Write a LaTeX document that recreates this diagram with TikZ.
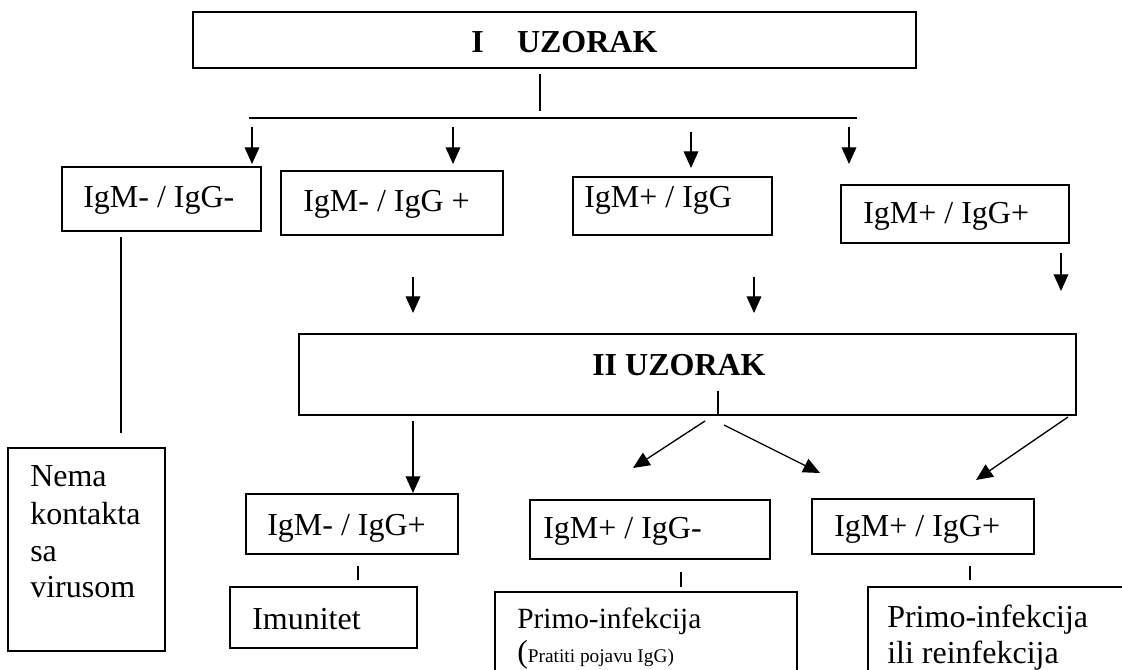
\documentclass[tikz,border=0pt]{standalone}
\usepackage{fontspec}
\setmainfont{Liberation Serif}
\usetikzlibrary{arrows.meta,fit}
\begin{document}
\begin{tikzpicture}[x=0.75pt,y=-0.75pt,
  box/.style={draw, line width=1.2pt, inner sep=0pt, rectangle},
  conn/.style={line width=1pt},
  arr/.style={conn, -{Triangle[length=12.5pt,width=11pt]}},
  lbl/.style={anchor=base west, inner sep=0pt, font=\fontsize{24}{28}\selectfont},
  ttl/.style={lbl, font=\fontsize{24}{28}\selectfont\bfseries}]
\useasboundingbox (0,0) rectangle (1122,670);
\clip (0,0) rectangle (1122,670);
% boxes
\node[box, fit={(193,12) (916,68)}] (top) {};
\node[box, fit={(62,167) (261,231)}] (r1a) {};
\node[box, fit={(281,171) (503,235)}] (r1b) {};
\node[box, fit={(573,177) (772,235)}] (r1c) {};
\node[box, fit={(841,185) (1069,243)}] (r1d) {};
\node[box, fit={(299,334) (1076,415)}] (two) {};
\node[box, fit={(8,448) (165,651)}] (nema) {};
\node[box, fit={(246,494) (458,554)}] (r2a) {};
\node[box, fit={(530,500) (770,559)}] (r2b) {};
\node[box, fit={(812,499) (1034,554)}] (r2c) {};
\node[box, fit={(230,587) (417,648)}] (imu) {};
\node[box, fit={(495,592) (797,690)}] (pri1) {};
\node[box, fit={(868,587) (1140,690)}] (pri2) {};
% texts
\node[ttl] (ttop) at (471,53) {I\hspace{25pt}UZORAK};
\node[ttl] (ttwo) at (592,376) {II UZORAK};
\node[lbl] (t1a) at (83,208) {IgM- / IgG-};
\node[lbl] (t1b) at (303,212) {IgM- / IgG +};
\node[lbl] (t1c) at (584,208) {IgM+ / IgG};
\node[lbl] (t1d) at (863,224) {IgM+ / IgG+};
\node[lbl] (t2a) at (267,535) {IgM- / IgG+};
\node[lbl] (t2b) at (543,538) {IgM+ / IgG-};
\node[lbl] (t2c) at (834,537) {IgM+ / IgG+};
\node[lbl] (tn1) at (30,487) {Nema};
\node[lbl] (tn2) at (30,524) {kontakta};
\node[lbl] (tn3) at (30,561) {sa};
\node[lbl] (tn4) at (30,597) {virusom};
\node[lbl] (timu) at (252,629) {Imunitet};
\node[lbl, font=\fontsize{22}{26}\selectfont] (tp1) at (517,628) {Primo-infekcija};
\node[lbl] (tp1b) at (517,662) {(\fontsize{14.5}{16}\selectfont Pratiti pojavu IgG)};
\node[lbl] (tp2) at (887,627) {Primo-infekcija};
\node[lbl] (tp2b) at (887,663) {ili reinfekcija};
% coordinates for connectors
\coordinate (a0) at (540,74);  \coordinate (b0) at (540,111);
\coordinate (hl) at (249,118); \coordinate (hr) at (857,118);
\coordinate (a1) at (252,127); \coordinate (b1) at (252,164);
\coordinate (a2) at (453,127); \coordinate (b2) at (453,164);
\coordinate (a3) at (691,132); \coordinate (b3) at (691,168);
\coordinate (a4) at (849,127); \coordinate (b4) at (849,164);
\coordinate (nl) at (121,237); \coordinate (nb) at (121,433);
\coordinate (a5) at (413,277); \coordinate (b5) at (413,313);
\coordinate (a6) at (754,277); \coordinate (b6) at (754,313);
\coordinate (a7) at (1061,253); \coordinate (b7) at (1061,291);
\coordinate (tk) at (718,391);
\coordinate (a8) at (413,421); \coordinate (b8) at (413,493);
\coordinate (d1s) at (705,421); \coordinate (d1e) at (633,468);
\coordinate (d2s) at (724,425); \coordinate (d2e) at (820,473);
\coordinate (d3s) at (1068,417); \coordinate (d3e) at (976,480);
\coordinate (k1) at (358,566); \coordinate (k1e) at (358,580);
\coordinate (k2) at (681,572); \coordinate (k2e) at (681,587);
\coordinate (k3) at (970,566); \coordinate (k3e) at (970,580);
% connectors
\draw[conn] (a0) -- (b0);
\draw[conn] (hl) -- (hr);
\draw[arr] (a1) -- (b1);
\draw[arr] (a2) -- (b2);
\draw[arr] (a3) -- (b3);
\draw[arr] (a4) -- (b4);
\draw[conn] (nl) -- (nb);
\draw[arr] (a5) -- (b5);
\draw[arr] (a6) -- (b6);
\draw[arr] (a7) -- (b7);
\draw[conn] (tk) -- (tk |- two.south);
\draw[arr] (a8) -- (b8);
\draw[arr] (d1s) -- (d1e);
\draw[arr] (d2s) -- (d2e);
\draw[arr] (d3s) -- (d3e);
\draw[conn] (k1) -- (k1e);
\draw[conn] (k2) -- (k2e);
\draw[conn] (k3) -- (k3e);
\end{tikzpicture}
\end{document}
